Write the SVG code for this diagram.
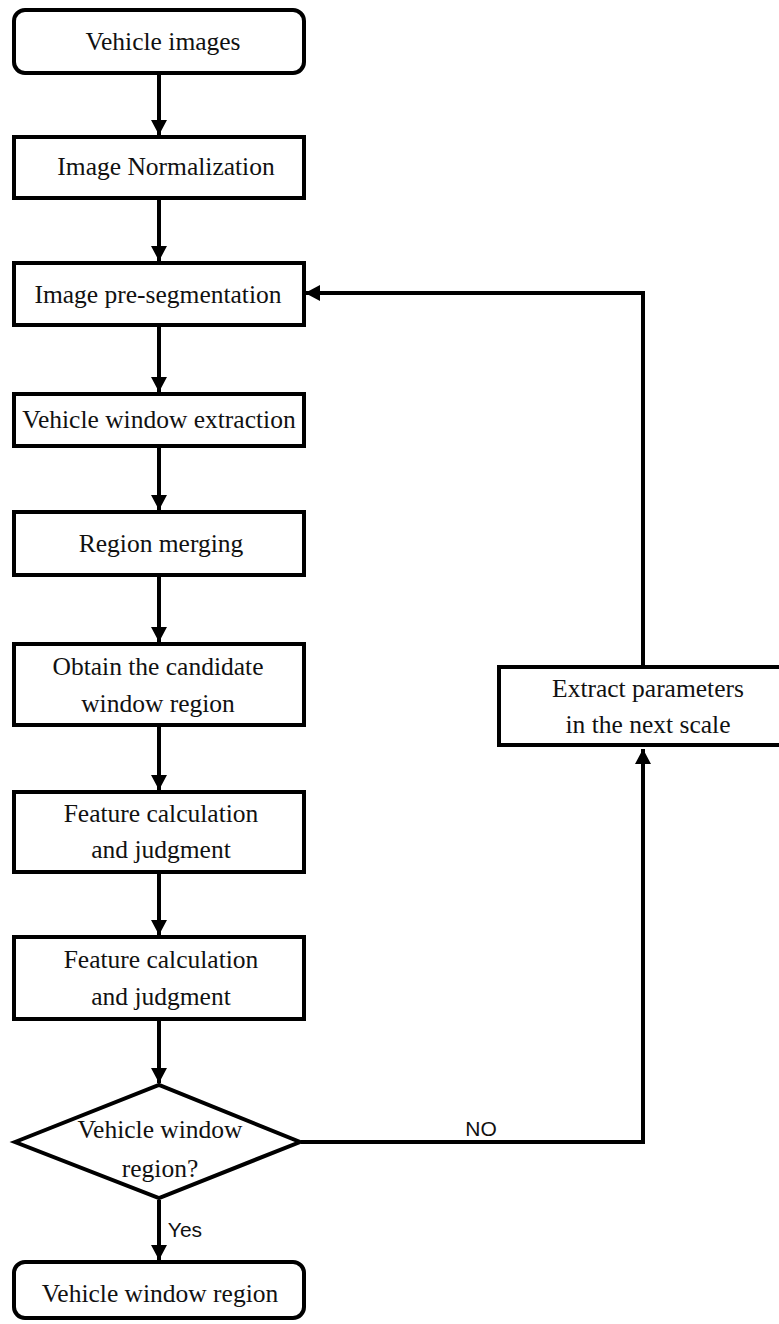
<svg xmlns="http://www.w3.org/2000/svg" width="779" height="1324" viewBox="0 0 779 1324">
<style>
.box{fill:#fff;stroke:#000;stroke-width:4}
.t{font-family:"Liberation Serif","Times New Roman",serif;font-size:25.5px;fill:#111;text-anchor:middle}
.lbl{font-family:"Liberation Sans",Arial,sans-serif;font-size:21px;fill:#111;text-anchor:middle}
.c{fill:none;stroke:#000;stroke-width:4}
</style>
<defs>
<marker id="ah" markerUnits="userSpaceOnUse" markerWidth="16" markerHeight="16" viewBox="0 0 16 16" refX="15" refY="8" orient="auto">
<path d="M0,0 L15,8 L0,16 Z" fill="#000"/>
</marker>
</defs>
<rect width="779" height="1324" fill="#fff"/>
<g id="connectors">
<line class="c" x1="159" y1="75" x2="159" y2="135" marker-end="url(#ah)"/>
<line class="c" x1="159" y1="200" x2="159" y2="261" marker-end="url(#ah)"/>
<line class="c" x1="159" y1="327" x2="159" y2="392" marker-end="url(#ah)"/>
<line class="c" x1="159" y1="448" x2="159" y2="510" marker-end="url(#ah)"/>
<line class="c" x1="159" y1="577" x2="159" y2="642" marker-end="url(#ah)"/>
<line class="c" x1="159" y1="727" x2="159" y2="790" marker-end="url(#ah)"/>
<line class="c" x1="159" y1="874" x2="159" y2="935" marker-end="url(#ah)"/>
<line class="c" x1="159" y1="1021" x2="159" y2="1083" marker-end="url(#ah)"/>
<line class="c" x1="159" y1="1200" x2="159" y2="1260" marker-end="url(#ah)"/>
<polyline class="c" points="301,1142 643,1142 643,749" marker-end="url(#ah)"/>
<polyline class="c" points="643,665 643,293 305,293" marker-end="url(#ah)"/>
<text class="lbl" x="481" y="1136" font-size="22">NO</text>
<text class="lbl" x="185" y="1237">Yes</text>
</g>
<g id="n1"><rect class="box" x="14" y="10" width="290" height="63" rx="11"/><text class="t" x="163" y="50">Vehicle images</text></g>
<g id="n2"><rect class="box" x="14" y="137" width="290" height="61"/><text class="t" x="166" y="175">Image Normalization</text></g>
<g id="n3"><rect class="box" x="14" y="263" width="290" height="62"/><text class="t" x="158" y="303">Image pre-segmentation</text></g>
<g id="n4"><rect class="box" x="14" y="394" width="290" height="52"/><text class="t" x="159" y="428">Vehicle window extraction</text></g>
<g id="n5"><rect class="box" x="14" y="512" width="290" height="63"/><text class="t" x="161" y="552">Region merging</text></g>
<g id="n6"><rect class="box" x="14" y="644" width="290" height="81"/><text class="t" x="158" y="675">Obtain the candidate</text><text class="t" x="158" y="712">window region</text></g>
<g id="n7"><rect class="box" x="14" y="792" width="290" height="80"/><text class="t" x="161" y="822">Feature calculation</text><text class="t" x="161" y="858">and judgment</text></g>
<g id="n8"><rect class="box" x="14" y="937" width="290" height="82"/><text class="t" x="161" y="968">Feature calculation</text><text class="t" x="161" y="1005">and judgment</text></g>
<g id="n9"><polygon class="box" points="15,1142 159,1085 300,1142 159,1198"/><text class="t" x="160" y="1138">Vehicle window</text><text class="t" x="160" y="1177">region?</text></g>
<g id="n10"><rect class="box" x="14" y="1262" width="290" height="56" rx="11"/><text class="t" x="160" y="1302">Vehicle window region</text></g>
<g id="n11"><rect class="box" x="499" y="667" width="292" height="78"/><text class="t" x="648" y="697">Extract parameters</text><text class="t" x="648" y="733">in the next scale</text></g>
</svg>
